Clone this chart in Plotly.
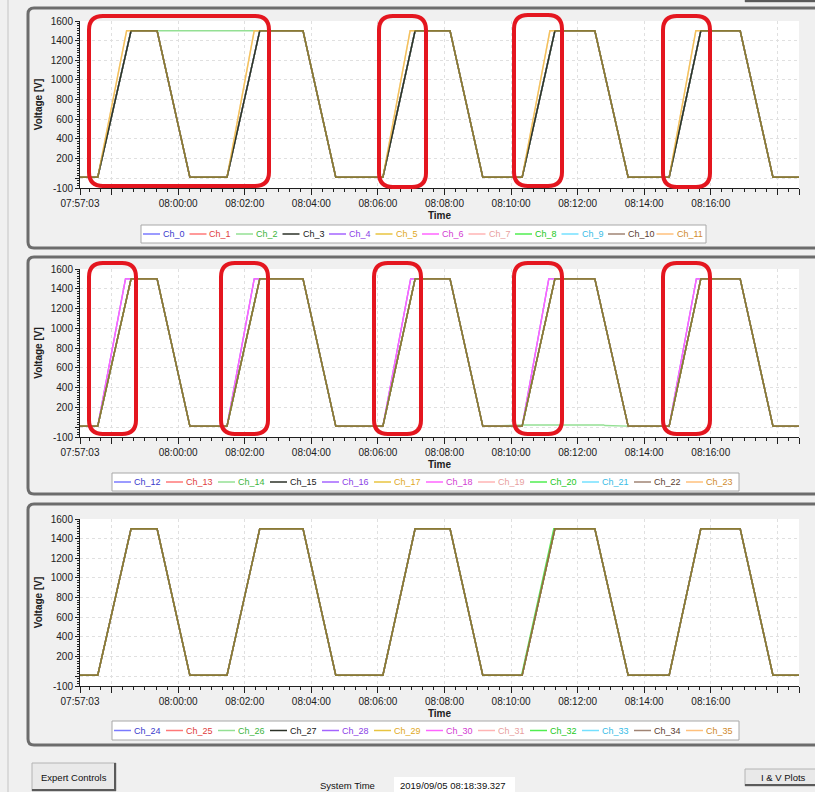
import plotly.graph_objects as go

# ---------------- data (seconds since 07:57:03, volts) ----------------
x_tick_vals = [0, 57, 177, 297, 417, 537, 657, 777, 897, 1017, 1137, 1257, 1296]
x_tick_text = ["07:57:03", "", "08:00:00", "08:02:00", "08:04:00", "08:06:00", "08:08:00",
               "08:10:00", "08:12:00", "08:14:00", "08:16:00", "", "08:18:39"]
y_tick_vals = [-100, 0, 200, 400, 600, 800, 1000, 1200, 1400, 1600]
y_tick_text = ["-100", "", "200", "400", "600", "800", "1000", "1200", "1400", "1600"]

t_main = [0, 32, 92, 139, 198, 265, 324, 402, 461, 546, 604, 667, 726, 797, 856, 928, 988, 1062, 1119, 1190, 1249, 1296]
v_main = [10, 10, 1500, 1500, 10, 10, 1500, 1500, 10, 10, 1500, 1500, 10, 10, 1500, 1500, 10, 10, 1500, 1500, 10, 10]

t_fast_top = [0, 32, 84, 139, 198, 265, 314, 402, 461, 546, 595, 667, 726, 797, 847, 928, 988, 1062, 1110, 1190, 1249, 1296]
t_fast_mid = [0, 32, 82, 139, 198, 265, 314, 402, 461, 546, 596, 667, 726, 797, 845, 928, 988, 1062, 1111, 1190, 1249, 1296]

t_ch2 = [0, 32, 92, 402, 461, 546, 604, 667, 726, 797, 856, 928, 988, 1062, 1119, 1190, 1249, 1296]
v_ch2 = [10, 10, 1500, 1500, 10, 10, 1500, 1500, 10, 10, 1500, 1500, 10, 10, 1500, 1500, 10, 10]

t_ch14 = [0, 32, 92, 139, 198, 265, 324, 402, 461, 546, 604, 667, 726, 800, 944, 946, 988, 1062, 1119, 1190, 1249, 1296]
v_ch14 = [10, 10, 1500, 1500, 10, 10, 1500, 1500, 10, 10, 1500, 1500, 10, 22, 22, 16, 10, 10, 1500, 1500, 10, 10]

t_ch32 = [0, 32, 92, 139, 198, 265, 324, 402, 461, 546, 604, 667, 726, 796, 854, 928, 988, 1062, 1119, 1190, 1249, 1296]

names_top = ["Ch_0", "Ch_1", "Ch_2", "Ch_3", "Ch_4", "Ch_5", "Ch_6", "Ch_7", "Ch_8", "Ch_9", "Ch_10", "Ch_11"]
names_mid = ["Ch_12", "Ch_13", "Ch_14", "Ch_15", "Ch_16", "Ch_17", "Ch_18", "Ch_19", "Ch_20", "Ch_21", "Ch_22", "Ch_23"]
names_bot = ["Ch_24", "Ch_25", "Ch_26", "Ch_27", "Ch_28", "Ch_29", "Ch_30", "Ch_31", "Ch_32", "Ch_33", "Ch_34", "Ch_35"]

line_colors = ["#7a7aff", "#ff7878", "#94e094", "#2c3228", "#a464ff", "#e8c440",
               "#ff64ff", "#ffb4b4", "#50ee50", "#74e0ff", "#a08474", "#ffc07c"]
text_colors = ["#3a3acc", "#e03c3c", "#3cb43c", "#202020", "#8a3ee6", "#e0a824",
               "#d23cd2", "#e8a0a0", "#22c822", "#38bce6", "#5a3c30", "#d08a2c"]

special = [
    {"Ch_2": (t_ch2, v_ch2), "Ch_5": (t_fast_top, v_main), "Ch_11": (t_fast_top, v_main)},
    {"Ch_14": (t_ch14, v_ch14), "Ch_16": (t_fast_mid, v_main), "Ch_18": (t_fast_mid, v_main)},
    {"Ch_32": (t_ch32, v_main)},
]
panel_names = [names_top, names_mid, names_bot]

# ---------------- layout helpers (pixels) ----------------
W, H = 815, 792
def X(px):
    return px / W
def Y(py):
    return 1 - py / H

plot_left, plot_right = 80, 799
plot_rows = [(21, 188), (269, 437), (519, 686)]
draw_order = [0, 1, 2, 4, 6, 7, 8, 9, 10, 11, 3, 5]

fig = go.Figure()
FONT = "Liberation Sans"

for p in range(3):
    ax = "" if p == 0 else str(p + 1)
    names = panel_names[p]
    for i in draw_order:
        nm = names[i]
        t, v = special[p].get(nm, (t_main, v_main))
        fig.add_trace(go.Scatter(
            x=t, y=v, mode="lines", name=nm,
            line=dict(color=line_colors[i], width=1.4),
            opacity=0.5 if i == 5 else 1.0,
            xaxis="x" + ax, yaxis="y" + ax, showlegend=False,
            hoverinfo="skip"))
    top, bot = plot_rows[p]
    fig.layout["xaxis" + ax] = dict(
        domain=[X(plot_left), X(plot_right)], anchor="y" + ax, range=[0, 1296],
        tickmode="array", tickvals=x_tick_vals, ticktext=x_tick_text,
        ticks="outside", ticklen=6, tickcolor="#202020", tickfont=dict(size=10, family=FONT, color="#202020"),
        showline=True, linecolor="#202020", linewidth=1,
        showgrid=True, gridcolor="#e0e0e0", griddash="dot", gridwidth=1, zeroline=False,
        minor=dict(tickmode="linear", tick0=17, dtick=20, ticks="outside", ticklen=3,
                   tickcolor="#202020", showgrid=False),
        title=dict(text="Time", font=dict(size=10, family=FONT, weight="bold", color="#202020"), standoff=3),
        fixedrange=True)
    fig.layout["yaxis" + ax] = dict(
        domain=[Y(bot), Y(top)], anchor="x" + ax, range=[-100, 1600],
        tickmode="array", tickvals=y_tick_vals, ticktext=y_tick_text,
        ticks="outside", ticklen=4, tickcolor="#202020", tickfont=dict(size=10, family=FONT, color="#202020"),
        showline=True, linecolor="#202020", linewidth=1,
        showgrid=True, gridcolor="#e0e0e0", griddash="dot", gridwidth=1, zeroline=False,
        minor=dict(tickmode="linear", tick0=0, dtick=25, ticks="outside", ticklen=2,
                   tickcolor="#202020", showgrid=False),
        title=dict(text="Voltage [V]", font=dict(size=10, family=FONT, weight="bold", color="#202020"), standoff=6),
        fixedrange=True)

shapes = []
annotations = []

def rrect(x0, y0, x1, y1, r):
    return (f"M {X(x0 + r)},{Y(y0)} L {X(x1 - r)},{Y(y0)} Q {X(x1)},{Y(y0)} {X(x1)},{Y(y0 + r)} "
            f"L {X(x1)},{Y(y1 - r)} Q {X(x1)},{Y(y1)} {X(x1 - r)},{Y(y1)} "
            f"L {X(x0 + r)},{Y(y1)} Q {X(x0)},{Y(y1)} {X(x0)},{Y(y1 - r)} "
            f"L {X(x0)},{Y(y0 + r)} Q {X(x0)},{Y(y0)} {X(x0 + r)},{Y(y0)} Z")

# left window edge
shapes.append(dict(type="line", xref="paper", yref="paper", x0=X(8), x1=X(8), y0=0, y1=1,
                   line=dict(color="#c4c4c4", width=1), layer="below"))
# panel frames
for (y0, y1) in [(8, 248), (257, 494), (504, 745)]:
    shapes.append(dict(type="path", xref="paper", yref="paper", path=rrect(28, y0, 840, y1, 6),
                       line=dict(color="#6c6c6c", width=3), fillcolor="rgba(0,0,0,0)", layer="below"))

# legends
legend_specs = [
    (names_top, (141, 225, 706, 243), 143, 46.5, 48.5),
    (names_mid, (112, 473, 739, 491), 114, 52, 52),
    (names_bot, (112, 721, 739, 740), 114, 52, 52),
]
for names, box, start, p1, p2 in legend_specs:
    bx0, by0, bx1, by1 = box
    shapes.append(dict(type="rect", xref="paper", yref="paper", x0=X(bx0), x1=X(bx1), y0=Y(by1), y1=Y(by0),
                       fillcolor="white", line=dict(color="#a8a8a8", width=1), layer="above"))
    yc = (by0 + by1) / 2
    x = start
    for i, nm in enumerate(names):
        shapes.append(dict(type="line", xref="paper", yref="paper", x0=X(x), x1=X(x + 17), y0=Y(yc), y1=Y(yc),
                           line=dict(color=line_colors[i], width=1.5), layer="above"))
        annotations.append(dict(xref="paper", yref="paper", x=X(x + 18), y=Y(yc), text=nm, showarrow=False,
                                xanchor="left", yanchor="middle",
                                font=dict(size=9, family=FONT, color=text_colors[i])))
        x += p1 if len(nm) == 4 else p2

# red highlight boxes
red_boxes = [(89, 16, 269, 186), (379, 16, 426, 187), (514, 15, 562, 186), (663, 16, 710, 187),
             (89, 263, 136, 434), (221, 263, 268, 434), (374, 263, 421, 434), (514, 263, 562, 434),
             (663, 263, 710, 434)]
for b in red_boxes:
    shapes.append(dict(type="path", xref="paper", yref="paper", path=rrect(*b, 14),
                       line=dict(color="#e4161f", width=4), fillcolor="rgba(0,0,0,0)", layer="above"))

# bottom controls
def button(x0, y0, x1, y1):
    shapes.append(dict(type="rect", xref="paper", yref="paper", x0=X(x0), x1=X(x1), y0=Y(y1), y1=Y(y0),
                       fillcolor="#e9e9e9", line=dict(color="#b4b4b4", width=1), layer="above"))
    shapes.append(dict(type="line", xref="paper", yref="paper", x0=X(x0), x1=X(x1), y0=Y(y1 - 1), y1=Y(y1 - 1),
                       line=dict(color="#5a5a5a", width=2), layer="above"))
    shapes.append(dict(type="line", xref="paper", yref="paper", x0=X(x1 - 1), x1=X(x1 - 1), y0=Y(y1), y1=Y(y0),
                       line=dict(color="#5a5a5a", width=2), layer="above"))

button(32, 763, 116, 791)
button(745, 769, 830, 786)
button(745, -6, 830, 2)
shapes.append(dict(type="rect", xref="paper", yref="paper", x0=X(394), x1=X(515), y0=Y(795), y1=Y(777),
                   fillcolor="white", line=dict(width=0), layer="above"))

def label(x, y, text, anchor="center"):
    annotations.append(dict(xref="paper", yref="paper", x=X(x), y=Y(y), text=text, showarrow=False,
                            xanchor=anchor, yanchor="middle",
                            font=dict(size=9.5, family=FONT, color="#101010")))

label(74, 777, "Expert Controls")
label(347, 785, "System Time")
label(398, 785, "2019/09/05 08:18:39.327", "left")
label(783, 777, "I &amp; V Plots")

fig.update_layout(width=W, height=H, margin=dict(l=0, r=0, t=0, b=0, autoexpand=False),
                  paper_bgcolor="#f0f0f0", plot_bgcolor="white", showlegend=False,
                  font=dict(family=FONT, size=10, color="#202020"),
                  shapes=shapes, annotations=annotations)

fig.write_html("out.html", config={"displayModeBar": False},
               post_script="document.body.style.margin='0';")
